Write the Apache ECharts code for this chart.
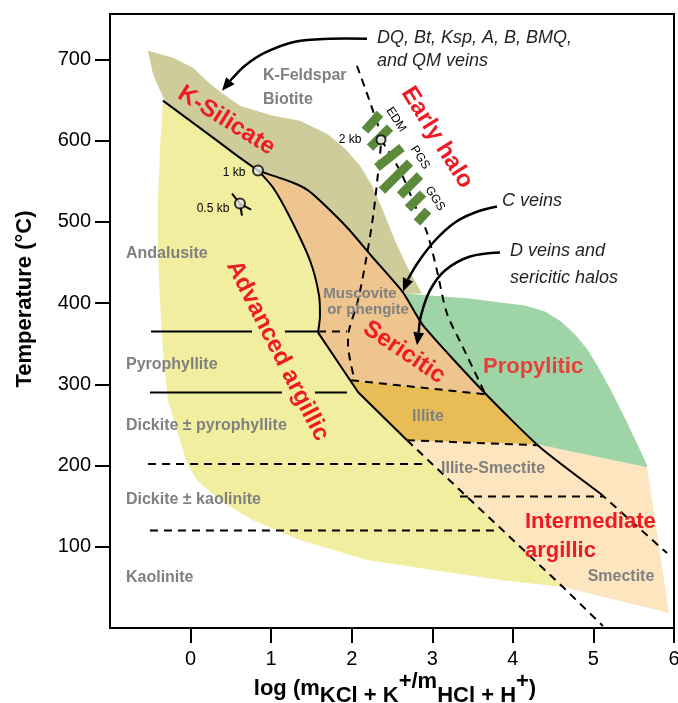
<!DOCTYPE html>
<html><head><meta charset="utf-8">
<script src="https://cdn.jsdelivr.net/npm/echarts@6/dist/echarts.min.js"></script>
<style>html,body{margin:0;padding:0;background:#fff}#chart{width:678px;height:703px}</style>
</head><body><div id="chart"></div>
<script>
// ---- axes ----
const xTicks = [0, 1, 2, 3, 4, 5, 6];
const yTicks = [100, 200, 300, 400, 500, 600, 700];

// ---- alteration fields, [log(mKCl+K+/mHCl+H+), T °C] ----
const kSilicateField = [[-0.529,710.8],[-0.218,702.2],[0.030,689.9],[0.241,670.2],[0.402,657.9],[0.613,643.1],[1.023,630.8],[1.358,624.7],[1.693,608.7],[1.916,590.3],[2.102,569.4],[2.251,544.8],[2.388,514.0],[2.537,477.1],[2.698,442.7],[2.872,411.9],[2.661,411.9],[2.251,457.4],[1.954,491.9],[1.631,523.9],[1.445,539.8],[1.234,549.7],[0.837,563.2],[0.576,581.6],[0.328,600.1],[-0.007,624.7],[-0.318,649.3],[-0.405,667.7],[-0.467,682.5]];
const advArgillicField = [[-0.343,649.3],[-0.007,624.7],[0.328,600.1],[0.576,581.6],[0.837,563.2],[1.023,542.3],[1.234,505.4],[1.482,452.5],[1.594,409.5],[1.606,384.9],[1.581,364.0],[2.080,290.2],[2.686,231.2],[4.622,50.4],[3.840,59.0],[3.008,71.3],[2.189,83.6],[1.358,108.2],[0.774,132.8],[0.365,157.4],[0.079,182.0],[-0.045,202.9],[-0.169,243.5],[-0.281,280.4],[-0.343,341.9],[-0.380,403.3],[-0.405,464.8],[-0.405,526.3],[-0.380,587.8]];
const sericiticField = [[0.837,563.2],[1.234,549.7],[1.445,539.8],[1.631,523.9],[1.954,491.9],[2.251,457.4],[2.636,413.2],[2.885,372.6],[3.666,287.7],[1.992,305.0],[1.581,364.0],[1.606,384.9],[1.594,409.5],[1.482,452.5],[1.234,505.4],[1.023,542.3]];
const illiteField = [[1.992,305.0],[3.666,287.7],[4.300,226.3],[2.686,231.2],[2.080,290.2]];
const intArgillicField = [[2.686,231.2],[4.300,226.3],[5.665,198.0],[5.938,18.4],[4.622,50.4]];
const propyliticField = [[2.661,411.9],[2.971,409.5],[3.468,405.8],[3.840,400.9],[4.151,397.2],[4.399,389.8],[4.598,377.5],[4.772,361.5],[4.933,341.9],[5.081,317.3],[5.230,290.2],[5.391,258.2],[5.540,227.5],[5.665,200.4],[5.665,198.0],[4.300,226.3],[3.679,286.5],[2.885,372.6]];

// ---- boundaries ----
const kSilicateBase = [[-0.343,649.3],[-0.007,624.7],[0.328,600.1],[0.576,581.6],[0.837,563.2]];
const sericiticTop = [[0.837,563.2],[1.234,549.7],[1.445,539.8],[1.631,523.9],[1.954,491.9],[2.251,457.4],[2.636,413.2],[2.885,372.6],[3.679,286.5],[4.337,222.6],[5.081,166.0]];
const sericiticTopExt = [[5.081,166.0],[5.913,92.2]];
const sericiticBase = [[0.837,563.2],[1.023,542.3],[1.234,505.4],[1.482,452.5],[1.594,409.5],[1.606,384.9],[1.581,364.0]];
const argillicBase = [[1.581,364.0],[2.080,290.2],[2.686,231.2]];
const argillicBaseExt = [[2.686,231.2],[4.622,50.4],[5.118,2.5]];
const illiteTop = [[1.992,305.0],[3.666,287.7]];
const illiteBase = [[2.686,231.2],[4.300,225.0]];
const pressure2kbLine = [[2.065,692.3],[2.263,637.0],[2.363,601.3],[2.326,559.5],[2.263,505.4],[2.176,452.5],[2.077,403.3],[1.966,366.4],[1.954,350.0],[2.040,303.8]];
const haloLine = [[2.363,601.3],[2.599,563.2],[2.785,520.2],[2.934,487.0],[3.058,440.2],[3.182,387.4],[3.381,345.5],[3.654,289.0]];

// ---- isotherms: [T, xStart, xEnd] ----
const solidIsotherms = [[365,-0.491,0.762],[365,1.171,1.581],[290,-0.504,1.134],[290,1.544,1.941]];
const dashedIsotherms = [[365,1.581,1.941],[202,-0.528,2.885],[120,-0.504,3.803],[162,3.344,5.118]];

// ---- early-halo bars (EDM, PGS, GGS) ----
const haloBars = [
  [[2.165,612.4],[2.351,633.3]],
  [[2.227,591.5],[2.475,616.1]],
  [[2.313,566.9],[2.624,591.5]],
  [[2.375,538.6],[2.723,573.0]],
  [[2.599,532.5],[2.847,557.1]],
  [[2.698,516.5],[2.885,534.9]],
  [[2.810,499.3],[2.946,514.0]]
];

// ---- pressure points ----
const pressurePoints = [[0.837,563.2],[2.363,601.3]];
const halfKbPoint = [0.613,522.6];
const halfKbStubs = [[[0.514,534.9],[0.613,522.6],[0.750,515.2]],[[0.613,522.6],[0.638,507.8]]];

// ---- arrows ----
const arrowDQ = [[2.189,725.5],[1.733,725.5],[1.296,721.8],[0.923,708.3],[0.675,692.3],[0.514,676.4],[0.390,661.6]];
const arrowC = [[3.803,518.9],[3.530,511.6],[3.282,499.3],[3.033,477.1],[2.822,450.1],[2.698,429.2],[2.636,414.4]];
const arrowD = [[3.840,462.4],[3.468,457.4],[3.157,440.2],[2.971,415.6],[2.860,384.9],[2.810,348.0]];

// ---- labels ----
const alterationLabels = [['K-Silicate',0.445,624.7,-32],['Early halo',3.058,603.8,-58],['Advanced argillic',1.079,341.2,-63],['Sericitic',2.651,339.4,-34]];
const propyliticLabel = [['Propylitic',4.251,321.0,0]];
const intermediateLabels = [['Intermediate',4.150,130.3,0],['argillic',4.150,94.7,0]];
const mineralLabelsLeft = [['Andalusite',-0.802,461.1],['Pyrophyllite',-0.802,324.6],['Dickite ± pyrophyllite',-0.802,249.6],['Dickite ± kaolinite',-0.802,158.6],['Kaolinite',-0.802,61.5],['K-Feldspar',0.899,680.0],['Biotite',0.899,650.5]];
const mineralLabelsCenter = [['Illite',2.947,260.7],['Illite-Smectite',3.754,196.8],['Smectite',5.342,62.7]];
const micaLabels = [['Muscovite',2.102,411.9],['or phengite',2.202,392.3]];
const pressureLabels = [['2 kb',1.981,601.3],['1 kb',0.541,560.7],['0.5 kb',0.278,516.5]];
const haloLabels = [['EDM',2.550,625.9,-57],['PGS',2.847,579.2,-57],['GGS',3.033,528.8,-57]];
const veinNotes = [['DQ, Bt, Ksp, A, B, BMQ,',2.313,726.7],['and QM veins',2.313,698.4],['C veins',3.865,526.3],['D veins and',3.965,464.8],['sericitic halos',3.965,430.4]];

const FF = "'Liberation Sans', Arial, Helvetica, sans-serif";

function polySeries(points, color, z) {
  return { type: 'custom', silent: true, z: z || 1, data: points, animation: false,
    renderItem: function (params, api) {
      if (params.dataIndex !== 0) return null;
      return { type: 'polygon', shape: { points: points.map(function (p) { return api.coord(p); }) }, style: { fill: color } };
    } };
}
function lineSeries(points, dashed, smooth, width) {
  return { type: 'line', data: points, symbol: 'none', showSymbol: false, silent: true, z: 5, animation: false,
    smooth: smooth || false,
    lineStyle: { color: '#000', width: width || 2, type: dashed ? [8, 6] : 'solid', cap: 'butt' } };
}
function isoSeries(list, dashed) {
  return { type: 'custom', silent: true, z: 5, animation: false, data: list.map(function (d) { return [d[1], d[0]]; }),
    renderItem: function (params, api) {
      const d = list[params.dataIndex];
      const a = api.coord([d[1], d[0]]), b = api.coord([d[2], d[0]]);
      return { type: 'line', shape: { x1: a[0], y1: a[1], x2: b[0], y2: b[1] },
        style: { stroke: '#000', lineWidth: 2, lineDash: dashed ? [8, 6] : null } };
    } };
}
function barSeries(list) {
  return { type: 'custom', silent: true, z: 6, animation: false, data: list.map(function (b) { return b[0]; }),
    renderItem: function (params, api) {
      const b = list[params.dataIndex];
      const a = api.coord(b[0]), c = api.coord(b[1]);
      return { type: 'line', shape: { x1: a[0], y1: a[1], x2: c[0], y2: c[1] },
        style: { stroke: '#5b8a3b', lineWidth: 9, lineCap: 'butt' } };
    } };
}
function arrowSeries(points) {
  return { type: 'custom', silent: true, z: 8, animation: false, data: points,
    renderItem: function (params, api) {
      if (params.dataIndex !== 0) return null;
      const px = points.map(function (p) { return api.coord(p); });
      const n = px.length, tip = px[n - 1], prev = px[n - 2];
      const dx = tip[0] - prev[0], dy = tip[1] - prev[1], L = Math.hypot(dx, dy);
      const ux = dx / L, uy = dy / L, hl = 13, hw = 5.5;
      const base = [tip[0] - ux * hl, tip[1] - uy * hl];
      const shaft = px.slice(0, n - 1).filter(function (p) { return Math.hypot(p[0] - tip[0], p[1] - tip[1]) > hl + 2; });
      shaft.push(base);
      return { type: 'group', children: [
        { type: 'polyline', shape: { points: shaft, smooth: 0.35 }, style: { stroke: '#000', lineWidth: 2.5, fill: 'none' } },
        { type: 'polygon', shape: { points: [tip, [base[0] - uy * hw, base[1] + ux * hw], [base[0] + uy * hw, base[1] - ux * hw]] }, style: { fill: '#000' } }
      ] };
    } };
}
function textSeries(list, font, color, align) {
  return { type: 'custom', silent: true, z: 10, animation: false, data: list.map(function (t) { return [t[1], t[2]]; }),
    renderItem: function (params, api) {
      const t = list[params.dataIndex];
      const c = api.coord([t[1], t[2]]);
      return { type: 'text', x: c[0], y: c[1], rotation: (t[3] || 0) * Math.PI / 180,
        style: { text: t[0], font: font, fill: color, textAlign: align || 'center', textVerticalAlign: 'middle' } };
    } };
}

const chart = echarts.init(document.getElementById('chart'), null, { renderer: 'canvas' });
chart.setOption({
  animation: false,
  backgroundColor: '#fff',
  grid: { left: 110, right: 4, top: 14, bottom: 75, show: true, borderColor: '#000', borderWidth: 2, backgroundColor: 'transparent',
    containLabel: false, outerBoundsMode: 'none' },
  xAxis: { type: 'value', min: -1, max: 6, interval: 1,
    axisLine: { show: true, onZero: false, lineStyle: { color: '#000', width: 2 } },
    axisTick: { show: true, length: 15, customValues: xTicks, lineStyle: { color: '#000', width: 2 } },
    axisLabel: { customValues: xTicks, color: '#000', fontSize: 20, margin: 21, fontFamily: FF },
    splitLine: { show: false } },
  yAxis: { type: 'value', min: 0, max: 756, interval: 100,
    axisLine: { show: true, onZero: false, lineStyle: { color: '#000', width: 2 } },
    axisTick: { show: true, length: 15, customValues: yTicks, lineStyle: { color: '#000', width: 2 } },
    axisLabel: { customValues: yTicks, color: '#000', fontSize: 20, margin: 19, fontFamily: FF },
    splitLine: { show: false } },
  graphic: [
    { type: 'text', x: 25, y: 299, rotation: Math.PI / 2, z: 100,
      style: { text: 'Temperature (°C)', font: "bold 22px " + FF, fill: '#000', textAlign: 'center', textVerticalAlign: 'middle' } },
    { type: 'text', x: 395, y: 689, z: 100,
      style: { text: '{b|log (m}{s|KCl + K}{p|+/m}{s|HCl + H}{q|+}{b|)}', textAlign: 'center', textVerticalAlign: 'middle',
        rich: {
          b: { font: "bold 22px " + FF, fill: '#000', lineHeight: 36, verticalAlign: 'middle' },
          s: { font: "bold 22px " + FF, fill: '#000', verticalAlign: 'bottom' },
          p: { font: "bold 22px " + FF, fill: '#000', lineHeight: 30, verticalAlign: 'top' },
          q: { font: "bold 22px " + FF, fill: '#000', verticalAlign: 'top' }
        } } }
  ],
  series: [
    polySeries(advArgillicField, '#f2ee9f', 1),
    polySeries(intArgillicField, '#fde5bf', 1),
    polySeries(kSilicateField, '#cdcc9a', 2),
    polySeries(sericiticField, '#efc58f', 2),
    polySeries(illiteField, '#e8bd55', 2),
    polySeries(propyliticField, '#9fd4a6', 2),
    lineSeries(kSilicateBase, false),
    lineSeries(sericiticTop, false, 0.2),
    lineSeries(sericiticTopExt, true),
    lineSeries(sericiticBase, false, 0.3),
    lineSeries(argillicBase, false),
    lineSeries(argillicBaseExt, true),
    lineSeries(illiteTop, true),
    lineSeries(illiteBase, true),
    lineSeries(pressure2kbLine, true, 0.3),
    lineSeries(haloLine, true, 0.3),
    isoSeries(solidIsotherms, false),
    isoSeries(dashedIsotherms, true),
    barSeries(haloBars),
    { type: 'line', data: halfKbStubs[0], symbol: 'none', silent: true, z: 6, animation: false, lineStyle: { color: '#000', width: 2 } },
    { type: 'line', data: halfKbStubs[1], symbol: 'none', silent: true, z: 6, animation: false, lineStyle: { color: '#000', width: 2 } },
    { type: 'scatter', data: [pressurePoints[0], halfKbPoint], symbol: 'circle', symbolSize: 10, silent: true, z: 7, animation: false,
      itemStyle: { color: '#e9e9e9', borderColor: '#000', borderWidth: 2 } },
    { type: 'scatter', data: [pressurePoints[1]], symbol: 'circle', symbolSize: 9, silent: true, z: 7, animation: false,
      itemStyle: { color: '#fff', borderColor: '#000', borderWidth: 2 } },
    arrowSeries(arrowDQ),
    arrowSeries(arrowC),
    arrowSeries(arrowD),
    textSeries(alterationLabels, "bold 24px " + FF, '#ed1c24'),
    textSeries(propyliticLabel, "bold 22px " + FF, '#e8403a'),
    textSeries(intermediateLabels, "bold 22px " + FF, '#ed1c24', 'left'),
    textSeries(mineralLabelsLeft, "bold 16px " + FF, '#808080', 'left'),
    textSeries(mineralLabelsCenter, "bold 16px " + FF, '#808080'),
    textSeries(micaLabels, "bold 15px " + FF, '#808080'),
    textSeries(pressureLabels, "12px " + FF, '#000'),
    textSeries(haloLabels, "12px " + FF, '#000'),
    textSeries(veinNotes, "italic 18px " + FF, '#231f20', 'left')
  ]
});
</script></body></html>
